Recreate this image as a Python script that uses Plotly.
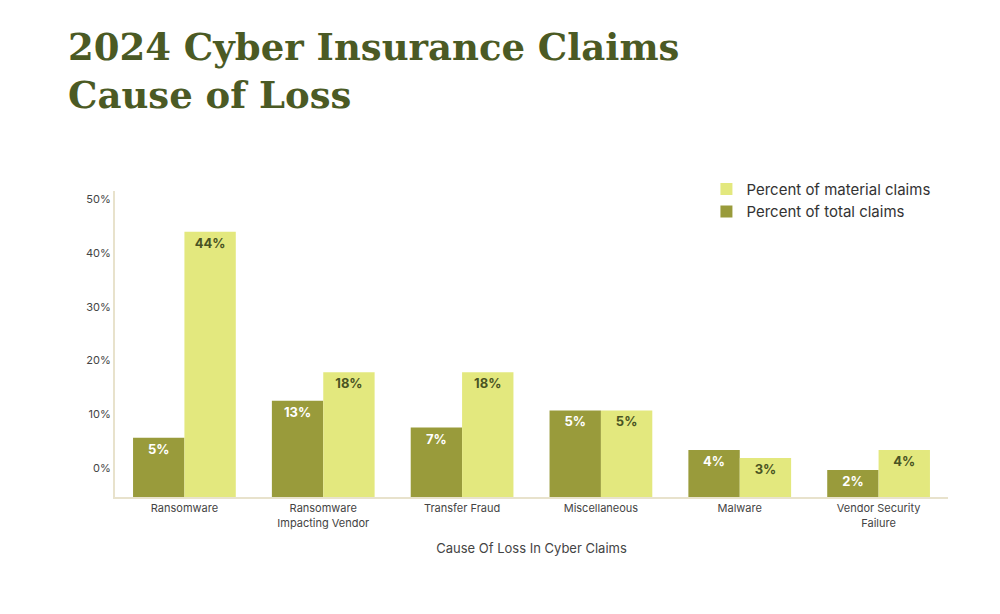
import plotly.graph_objects as go

causes = ["Ransomware", "Ransomware<br>Impacting Vendor", "Transfer Fraud",
          "Miscellaneous", "Malware", "Vendor Security<br>Failure"]
# bar heights as drawn in the picture (percent)
total_height = [5.6, 12.5, 7.5, 10.7, 3.3, -0.4]
material_height = [44.0, 17.8, 17.8, 10.7, 1.8, 3.3]
# labels printed on the bars
total_labels = ["5%", "13%", "7%", "5%", "4%", "2%"]
material_labels = ["44%", "18%", "18%", "5%", "3%", "4%"]
y_ticks = [0, 10, 20, 30, 40, 50]
axis_floor = -5.45

fig = go.Figure()
fig.add_trace(go.Bar(
    x=causes, y=[v - axis_floor for v in total_height], base=axis_floor,
    name="Percent of total claims", marker_color="#999b3b",
    text=["<b>%s</b>" % t for t in total_labels], textposition="inside",
    insidetextanchor="end",
    textfont=dict(color="white", size=13, family="Inter"),
))
fig.add_trace(go.Bar(
    x=causes, y=[v - axis_floor for v in material_height], base=axis_floor,
    name="Percent of material claims", marker_color="#e3e87e",
    text=["<b>%s</b>" % t for t in material_labels], textposition="inside",
    insidetextanchor="end",
    textfont=dict(color="#4a5423", size=13, family="Inter"),
))
fig.update_traces(cliponaxis=False, marker_line_width=0)

fig.update_layout(
    width=1000, height=614,
    paper_bgcolor="white", plot_bgcolor="white",
    margin=dict(l=107, r=60, t=183, b=125),
    bargap=0.26, bargroupgap=0.0,
    title=dict(text="<b>2024 Cyber Insurance Claims<br>Cause of Loss</b>",
               x=0.06, xanchor="left", y=0.915, yanchor="top",
               font=dict(family="DejaVu Serif", size=37, color="#4b5a24")),
    font=dict(family="Inter", color="#444"),
    legend=dict(x=0.71, y=1.06, xanchor="left", yanchor="top",
                traceorder="reversed", font=dict(size=15, color="#333"),
                itemsizing="constant"),
    xaxis=dict(title=dict(text="Cause Of Loss In Cyber Claims",
                          font=dict(size=13, color="#444")),
               tickfont=dict(size=11, color="#444"), showline=True,
               linecolor="#e8e2cc", linewidth=2, ticks=""),
    yaxis=dict(range=[axis_floor, 51.6], tickmode="array", tickvals=y_ticks,
               ticktext=["%d%%" % v for v in y_ticks],
               showgrid=False, zeroline=False,
               showline=True, linecolor="#e8e2cc", linewidth=2,
               tickfont=dict(size=11, color="#444"), ticks=""),
)
fig.write_html("out.html")
